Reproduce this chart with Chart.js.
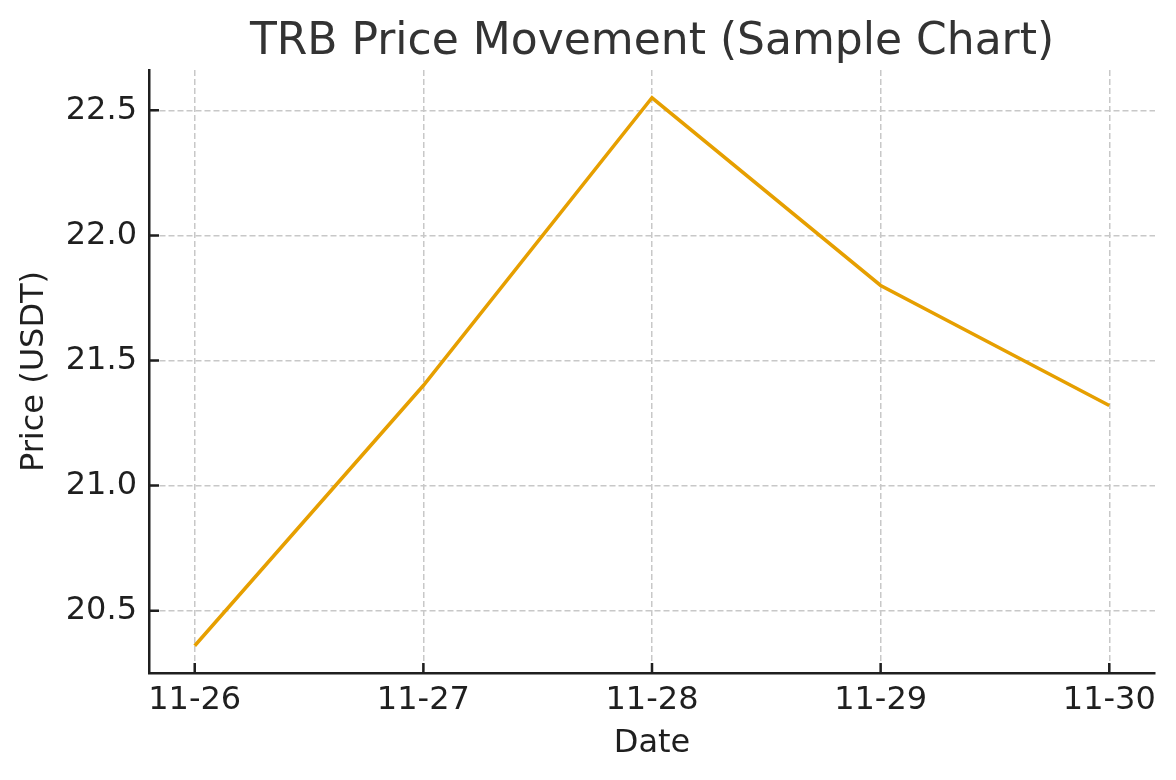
<!DOCTYPE html>
<html>
<head>
<meta charset="utf-8">
<title>TRB Price Movement</title>
<script src="https://cdn.jsdelivr.net/npm/chart.js@4/dist/chart.umd.min.js"></script>
<style>
  html, body { margin: 0; padding: 0; background: #fff; }
  #wrap { width: 1176px; height: 780px; }
</style>
</head>
<body>
<div id="wrap"><canvas id="chart" width="1176" height="780"></canvas></div>
<script>
/* ── Datos ── */
const dates  = ["11-26", "11-27", "11-28", "11-29", "11-30"];
const prices = [20.36, 21.40, 22.55, 21.80, 21.32];
const yTicks = [20.5, 21.0, 21.5, 22.0, 22.5];
const chartTitle = "TRB Price Movement (Sample Chart)";

const FONT = "'DejaVu Sans', sans-serif";
const INK  = "#1f1f1f";

/* ── Título centrado sobre el área de trazado ── */
const titlePlugin = {
  id: "plotTitle",
  afterDraw(chart) {
    const { ctx, chartArea } = chart;
    ctx.save();
    ctx.font = "44px " + FONT;
    ctx.fillStyle = "#333";
    ctx.textAlign = "center";
    ctx.textBaseline = "alphabetic";
    ctx.fillText(chartTitle, (chartArea.left + chartArea.right) / 2, 54);
    ctx.restore();
  },
};

/* ── Marcas de eje hacia adentro ── */
const tickPlugin = {
  id: "inTicks",
  afterDraw(chart) {
    const { ctx, chartArea, scales } = chart;
    ctx.save();
    ctx.strokeStyle = INK;
    ctx.lineWidth = 2.5;
    ctx.beginPath();
    scales.x.ticks.forEach(t => {
      const px = scales.x.getPixelForValue(t.value);
      ctx.moveTo(px, chartArea.bottom);
      ctx.lineTo(px, chartArea.bottom - 10);
    });
    scales.y.ticks.forEach(t => {
      const py = scales.y.getPixelForValue(t.value);
      ctx.moveTo(chartArea.left, py);
      ctx.lineTo(chartArea.left + 10, py);
    });
    ctx.stroke();
    ctx.restore();
  },
};

const ctx = document.getElementById("chart").getContext("2d");
new Chart(ctx, {
  type: "line",
  data: {
    datasets: [{
      label: "TRB",
      data: dates.map((d, i) => ({ x: i, y: prices[i] })),
      borderColor: "#E69F00",
      borderWidth: 3.5,
      pointRadius: 0,
      tension: 0,
      fill: false,
    }],
  },
  options: {
    animation: false,
    responsive: false,
    layout: { padding: { top: 70, right: 21, bottom: 0, left: 0 } },
    plugins: { legend: { display: false }, title: { display: false }, tooltip: { enabled: false } },
    scales: {
      x: {
        type: "linear",
        min: -0.2, max: 4.2,
        afterBuildTicks: s => { s.ticks = dates.map((d, i) => ({ value: i })); },
        afterFit: s => { s.height = 107; },
        grid: { color: "#c8c8c8", lineWidth: 1.5, drawTicks: false },
        border: { display: true, color: INK, width: 2.5, dash: [6, 3] },
        ticks: {
          padding: 8,
          color: INK,
          font: { family: FONT, size: 32 },
          maxRotation: 0,
          callback: v => dates[v],
        },
        title: {
          display: true, text: "Date", color: INK,
          font: { family: FONT, size: 32 },
          padding: { top: 0, bottom: 17 },
        },
      },
      y: {
        type: "linear",
        min: 20.251, max: 22.661,
        afterBuildTicks: s => { s.ticks = yTicks.map(v => ({ value: v })); },
        afterFit: s => { s.width = 149; },
        grid: { color: "#c8c8c8", lineWidth: 1.5, drawTicks: false },
        border: { display: true, color: INK, width: 2.5, dash: [6, 3] },
        ticks: {
          padding: 12,
          color: INK,
          font: { family: FONT, size: 32 },
          callback: v => v.toFixed(1),
        },
        title: {
          display: true, text: "Price (USDT)", color: INK,
          font: { family: FONT, size: 32 },
          padding: { top: 15, bottom: 0 },
        },
      },
    },
  },
  plugins: [titlePlugin, tickPlugin],
});
</script>
</body>
</html>
